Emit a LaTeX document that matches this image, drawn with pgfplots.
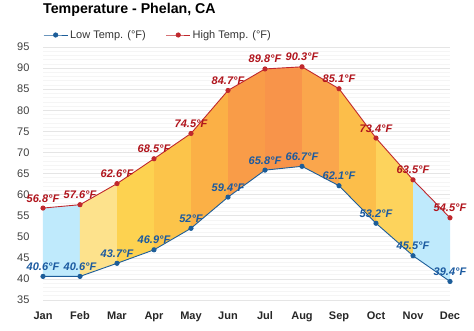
\documentclass[border=0pt]{standalone}
\usepackage{pgfplots}
\pgfplotsset{compat=1.18}
\usepackage{fontspec}
\setmainfont{Liberation Sans}
\definecolor{lowc}{HTML}{1C5D99}
\definecolor{highc}{HTML}{C0282D}
\definecolor{lowt}{HTML}{1B5AA0}
\definecolor{hight}{HTML}{B0141C}
\definecolor{cb}{HTML}{BFEAFC}
\definecolor{c2}{HTML}{FDE28C}
\definecolor{c3}{HTML}{FDD250}
\definecolor{c4}{HTML}{FCC44A}
\definecolor{c5}{HTML}{FBB046}
\definecolor{c6}{HTML}{F99C48}
\definecolor{c7}{HTML}{F8944A}
\definecolor{c8}{HTML}{FAA64C}
\definecolor{c9}{HTML}{FCBE4A}
\definecolor{c10}{HTML}{FDD35C}
\begin{document}
\begin{tikzpicture}
\path[use as bounding box] (-43pt,-31pt) rectangle (431pt,300pt);
\begin{axis}[
  at={(0pt,0pt)}, anchor=south west,
  scale only axis, width=407pt, height=253pt,
  xmin=0, xmax=11, ymin=35, ymax=95,
  axis line style={draw=none},
  tick style={draw=none},
  clip=false,
  xtick={0,...,11},
  xticklabels={Jan,Feb,Mar,Apr,May,Jun,Jul,Aug,Sep,Oct,Nov,Dec},
  ytick={35,40,...,95},
  minor y tick num=4,
  ymajorgrids, yminorgrids,
  major grid style={draw=black!10, line width=0.6pt},
  minor grid style={draw=black!4, line width=0.6pt},
  /pgf/number format/assume math mode=true,
  xticklabel style={font=\bfseries\fontsize{11}{13}\selectfont, text=black!85, anchor=base, yshift=-20pt},
  yticklabel style={font=\fontsize{11}{13}\selectfont, text=black!75, anchor=east, xshift=-10pt},
  title={\bfseries Temperature - Phelan, CA},
  title style={at={(0,1)}, anchor=base west, yshift=27pt, font=\fontsize{14.2}{16}\selectfont, inner sep=0pt},
  legend columns=2,
  legend style={draw=none, fill=none, at={(0,1)}, anchor=west, yshift=12pt, inner sep=0pt,
    font=\fontsize{11}{13}\selectfont, text=black!80, /tikz/every even column/.append style={column sep=18pt}},
  legend image code/.code={\draw[mark repeat=2,mark phase=2,#1] plot coordinates {(0pt,0pt)(12pt,0pt)(24pt,0pt)};},
]
% bands between low and high
\addplot[fill=cb, draw=none, forget plot] coordinates {(0,40.6) (1,40.6) (1,57.6) (0,56.8)} -- cycle;
\addplot[fill=c2, draw=none, forget plot] coordinates {(1,40.6) (2,43.7) (2,62.6) (1,57.6)} -- cycle;
\addplot[fill=c3, draw=none, forget plot] coordinates {(2,43.7) (3,46.9) (3,68.5) (2,62.6)} -- cycle;
\addplot[fill=c4, draw=none, forget plot] coordinates {(3,46.9) (4,52) (4,74.5) (3,68.5)} -- cycle;
\addplot[fill=c5, draw=none, forget plot] coordinates {(4,52) (5,59.4) (5,84.7) (4,74.5)} -- cycle;
\addplot[fill=c6, draw=none, forget plot] coordinates {(5,59.4) (6,65.8) (6,89.8) (5,84.7)} -- cycle;
\addplot[fill=c7, draw=none, forget plot] coordinates {(6,65.8) (7,66.7) (7,90.3) (6,89.8)} -- cycle;
\addplot[fill=c8, draw=none, forget plot] coordinates {(7,66.7) (8,62.1) (8,85.1) (7,90.3)} -- cycle;
\addplot[fill=c9, draw=none, forget plot] coordinates {(8,62.1) (9,53.2) (9,73.4) (8,85.1)} -- cycle;
\addplot[fill=c10, draw=none, forget plot] coordinates {(9,53.2) (10,45.5) (10,63.5) (9,73.4)} -- cycle;
\addplot[fill=cb, draw=none, forget plot] coordinates {(10,45.5) (11,39.4) (11,54.5) (10,63.5)} -- cycle;
% low
\addplot[color=lowc, line width=0.9pt, mark=*, mark size=2.1pt,
  nodes near coords={\pgfmathprintnumber{\pgfplotspointmeta}°F},
  every node near coord/.append style={font=\bfseries\itshape\fontsize{11}{13}\selectfont, text=lowt, anchor=base, yshift=6pt, inner sep=0pt}]
  coordinates {(0,40.6) (1,40.6) (2,43.7) (3,46.9) (4,52) (5,59.4) (6,65.8) (7,66.7) (8,62.1) (9,53.2) (10,45.5) (11,39.4)};
\addlegendentry{Low Temp. (°F)}
% high
\addplot[color=highc, line width=0.9pt, mark=*, mark size=2.1pt,
  nodes near coords={\pgfmathprintnumber{\pgfplotspointmeta}°F},
  every node near coord/.append style={font=\bfseries\itshape\fontsize{11}{13}\selectfont, text=hight, anchor=base, yshift=6pt, inner sep=0pt}]
  coordinates {(0,56.8) (1,57.6) (2,62.6) (3,68.5) (4,74.5) (5,84.7) (6,89.8) (7,90.3) (8,85.1) (9,73.4) (10,63.5) (11,54.5)};
\addlegendentry{High Temp. (°F)}
\end{axis}
\end{tikzpicture}
\end{document}
